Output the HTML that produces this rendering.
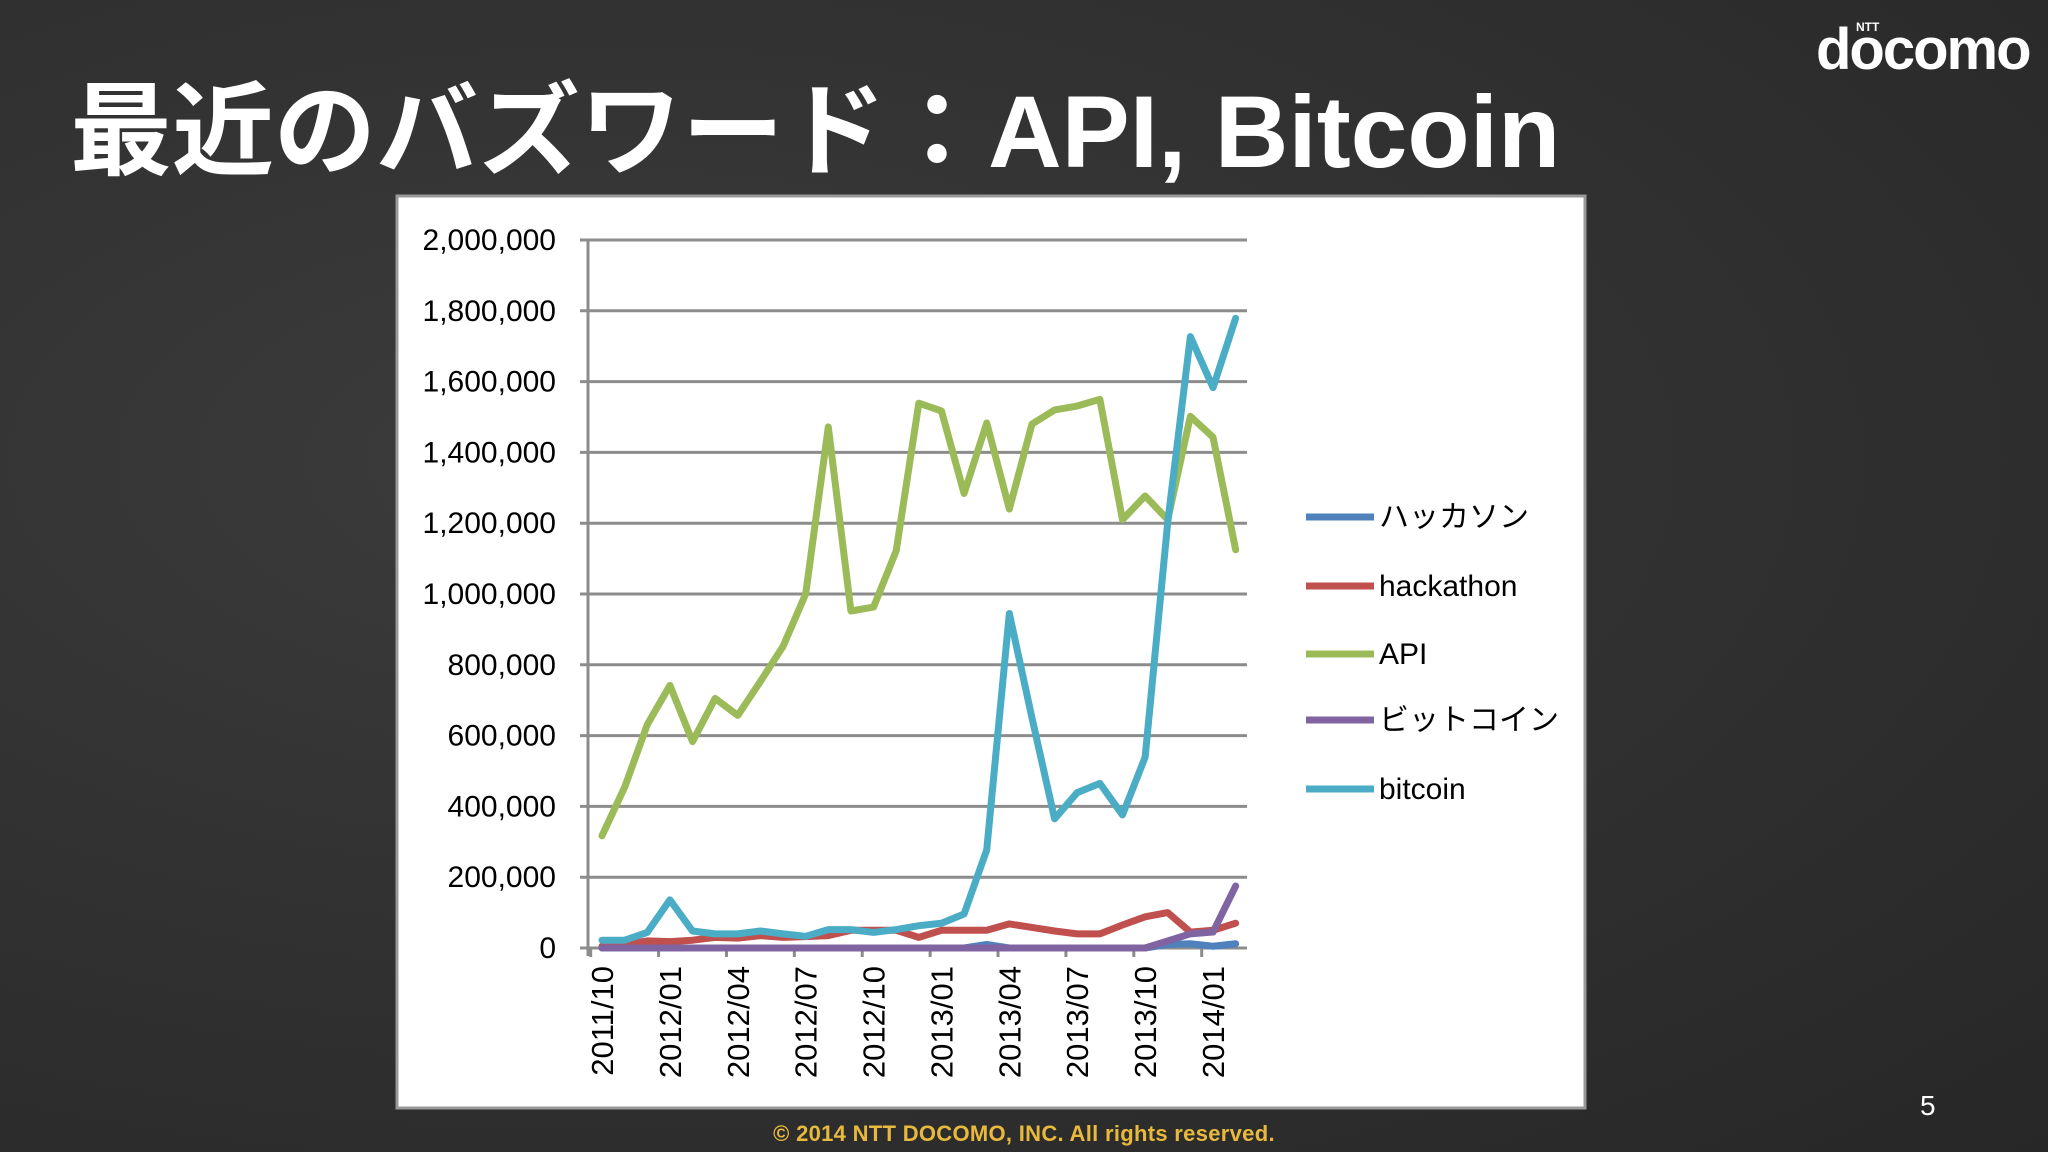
<!DOCTYPE html>
<html><head><meta charset="utf-8">
<style>
html,body{margin:0;padding:0}
body{width:2048px;height:1152px;overflow:hidden;position:relative;
background:radial-gradient(ellipse at 30% 40%,#3c3c3c 0%,#323232 45%,#272727 100%);
font-family:"Liberation Sans","Noto Sans CJK JP",sans-serif}
#title{position:absolute;left:70px;top:50px;color:#fff;font-size:102px;font-weight:bold;white-space:nowrap;letter-spacing:0px}
#logo{position:absolute;left:1816px;top:16px;color:#fff;font-size:58px;font-weight:bold;letter-spacing:-2px}
#logo span{position:absolute;left:40px;top:4px;font-size:12px;letter-spacing:0}
#footer{position:absolute;left:0;width:2048px;top:1121px;text-align:center;color:#e8b93c;font-size:22px;font-weight:bold;letter-spacing:0.3px}
#pnum{position:absolute;left:1920px;top:1090px;color:#fff;font-size:28px}
svg{position:absolute;left:0;top:0}
</style></head><body>
<div id="title">最近のバズワード：API, Bitcoin</div>
<div id="logo">docomo<span>NTT</span></div>
<svg id="chart" width="2048" height="1152"></svg>
<div id="footer">© 2014  NTT DOCOMO, INC. All rights reserved.</div>
<div id="pnum">5</div>
<script>
const months=[];
const xTickLabels=["2011/10","2012/01","2012/04","2012/07","2012/10","2013/01","2013/04","2013/07","2013/10","2014/01"];
const yTicks=[0,200000,400000,600000,800000,1000000,1200000,1400000,1600000,1800000,2000000];
const seriesNames=["ハッカソン","hackathon","API","ビットコイン","bitcoin"];
const seriesColors=["#4f81bd","#c0504d","#9bbb59","#8064a2","#4bacc6"];
const hackasonJa=[0,0,0,0,0,0,0,0,0,0,0,0,0,0,0,0,0,10,0,0,0,0,0,0,0,10,12,5,12];
const hackathon=[5,10,20,18,22,30,28,35,30,32,35,50,50,50,30,50,50,50,68,58,48,40,40,65,88,100,45,50,70];
const api=[317,454,631,742,583,705,657,753,852,1000,1472,952,963,1122,1539,1517,1284,1483,1240,1480,1520,1531,1550,1210,1277,1210,1502,1443,1125];
const bitcoinJa=[0,0,0,0,0,0,0,0,0,0,0,0,0,0,0,0,0,0,0,0,0,0,0,0,0,20,40,45,175];
const bitcoin=[22,22,44,136,48,40,40,48,40,33,52,52,44,52,63,70,96,277,945,650,365,439,465,376,539,1203,1727,1583,1779];
const series=[hackasonJa,hackathon,api,bitcoinJa,bitcoin];
for(let y=2011,m=10;months.length<29;){months.push(y+"/"+String(m).padStart(2,"0"));m++;if(m>12){m=1;y++;}}

const svg=document.getElementById('chart');
const NS="http://www.w3.org/2000/svg";
function mk(t,a,p){const e=document.createElementNS(NS,t);for(const k in a)e.setAttribute(k,a[k]);(p||svg).appendChild(e);return e;}
const L=588,R=1247,T=240,B=948,X0=602,DX=22.63;
const xs=i=>X0+i*DX;
const ys=v=>B-(v/2000000)*(B-T);

const box=mk('rect',{x:397,y:196,width:1188,height:912,fill:'#fff',stroke:'#999','stroke-width':3});



yTicks.forEach(v=>{
  const g=mk('line',{x1:L-8,x2:R,y1:ys(v),y2:ys(v),stroke:'#8c8c8c','stroke-width':3});
  
  
  const t=mk('text',{x:556,y:ys(v)+10,'text-anchor':'end','font-size':30,fill:'#000','font-family':'"Liberation Sans",sans-serif'});
  t.textContent=v.toLocaleString('en-US');
  
  
});
const ax=mk('line',{x1:L,x2:L,y1:T,y2:B+8,stroke:'#8c8c8c','stroke-width':3});



xTickLabels.forEach(lbl=>{
  const i=months.indexOf(lbl);
  const x=xs(i);
  const tk=mk('line',{x1:x-DX/2,x2:x-DX/2,y1:B,y2:B+9,stroke:'#8c8c8c','stroke-width':3});
  
  
  const t=mk('text',{x:0,y:0,'text-anchor':'end','font-size':31,fill:'#000',transform:`translate(${x+11},${B+18}) rotate(-90)`});
  t.textContent=lbl;
  
  
});

series.forEach((d,s)=>{
  const p=mk('polyline',{points:d.map((v,i)=>xs(i)+','+ys(v*1000)).join(' '),fill:'none',stroke:seriesColors[s],'stroke-width':7,'stroke-linejoin':'round','stroke-linecap':'round'});
  
  
});

const legY=[517,586,654,720,789];
seriesNames.forEach((n,s)=>{
  const l=mk('line',{x1:1306,x2:1374,y1:legY[s],y2:legY[s],stroke:seriesColors[s],'stroke-width':7});
  
  
  const t=mk('text',{x:1379,y:legY[s]+10,'font-size':30,fill:'#000','font-family':'"Liberation Sans","Noto Sans CJK JP",sans-serif'});
  t.textContent=n;
  
  
});
</script>
</body></html>
